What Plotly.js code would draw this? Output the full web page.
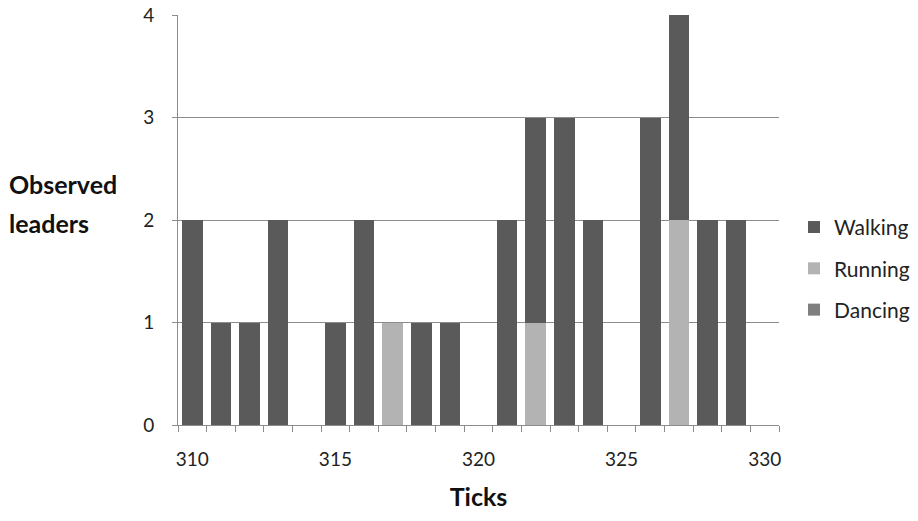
<!DOCTYPE html>
<html>
<head>
<meta charset="utf-8">
<script src="https://cdn.plot.ly/plotly-3.0.1.min.js"></script>
<style>html,body{margin:0;padding:0;background:#fff;}#chart{width:918px;height:521px;}</style>
</head>
<body>
<div id="chart"></div>
<script>
var ticks = [310,311,312,313,314,315,316,317,318,319,320,321,322,323,324,325,326,327,328,329];
var walking = [2,1,1,2,0,1,2,0,1,1,0,2,2,3,2,0,3,2,2,2];
var running = [0,0,0,0,0,0,0,1,0,0,0,0,1,0,0,0,0,2,0,0];
var dancing = [0,0,0,0,0,0,0,0,0,0,0,0,0,0,0,0,0,0,0,0];
var xTickLabels = [310,315,320,325,330];
var yTickLabels = [0,1,2,3,4];

var FONT = 'Lato, "Open Sans", sans-serif';
var barW = 0.72;
function mk(name, vals, color, rank){
  return {type:'bar', name:name, x:ticks, y:vals, width:barW, legendrank:rank,
    marker:{color:color, line:{width:0}}, legendgroup:name, hoverinfo:'x+y+name'};
}
var data = [
  mk('Dancing', dancing, '#7f7f7f', 3),
  mk('Running', running, '#b3b3b3', 2),
  mk('Walking', walking, '#5a5a5a', 1)
];
var layout = {
  width:918, height:521,
  margin:{l:178, r:139, t:15, b:96, pad:0, autoexpand:false},
  paper_bgcolor:'#fff', plot_bgcolor:'#fff',
  barmode:'stack', bargap:0,
  font:{family:FONT, size:19, color:'#222'},
  xaxis:{range:[309.5,330.5], tickvals:xTickLabels, ticktext:xTickLabels.map(String),
    ticks:'', showgrid:false, zeroline:false, showline:true, linecolor:'#8c8c8c', linewidth:1,
    ticklabelstandoff:17, automargin:false,
    minor:{ticks:'outside', tick0:309.5, dtick:1, ticklen:6, tickcolor:'#8c8c8c', showgrid:false},
    title:{text:'<b>Ticks</b>', font:{size:25, color:'#111'}, standoff:19}},
  yaxis:{range:[0,4], tickvals:yTickLabels, ticks:'outside', ticklen:5, tickcolor:'#8c8c8c',
    showgrid:true, gridcolor:'#8c8c8c', gridwidth:1, zeroline:false, automargin:false,
    showline:true, linecolor:'#8c8c8c', linewidth:1, ticklabelstandoff:14},
  legend:{x:1.025, xanchor:'left', y:0.532, yanchor:'top', traceorder:'grouped',
    tracegroupgap:11, font:{size:21, color:'#222'}, bgcolor:'rgba(0,0,0,0)', itemclick:false},
  annotations:[
    {text:'<b>Observed</b>', xref:'paper', yref:'paper', x:-0.285, y:0.588,
      xanchor:'left', yanchor:'middle', align:'left', showarrow:false, font:{size:25, color:'#111'}},
    {text:'<b>leaders</b>', xref:'paper', yref:'paper', x:-0.285, y:0.493,
      xanchor:'left', yanchor:'middle', align:'left', showarrow:false, font:{size:25, color:'#111'}}
  ],
  showlegend:true
};
Plotly.newPlot('chart', data, layout, {displayModeBar:false, staticPlot:true});
</script>
</body>
</html>
